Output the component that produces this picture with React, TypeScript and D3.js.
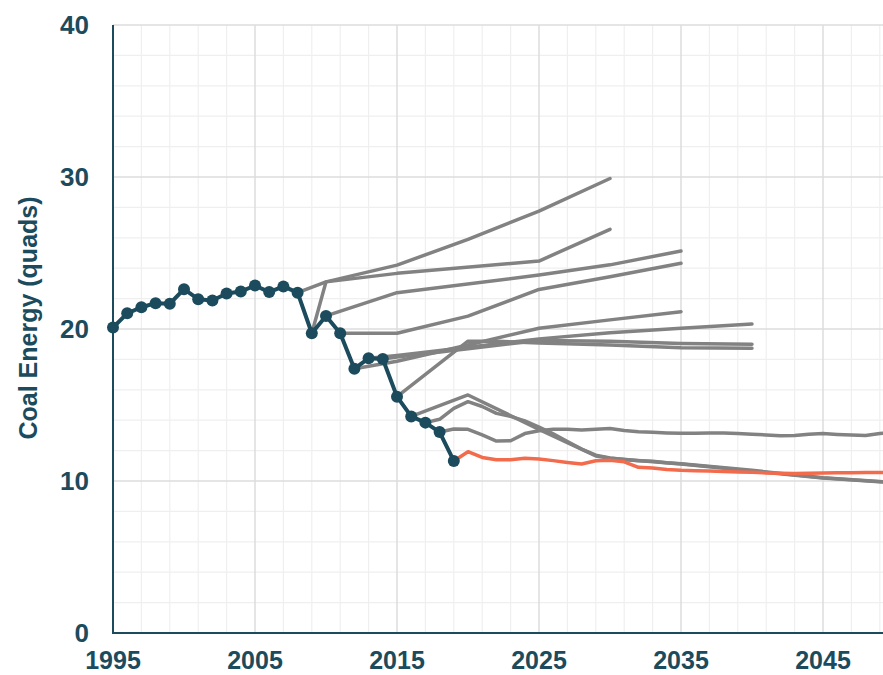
import React from 'react';
import * as d3 from 'd3';

// Historical coal consumption (quads)
const histYears = [1995, 1996, 1997, 1998, 1999, 2000, 2001, 2002, 2003, 2004, 2005, 2006, 2007, 2008, 2009, 2010, 2011, 2012, 2013, 2014, 2015, 2016, 2017, 2018, 2019];
const histValues = [20.1, 21.03, 21.43, 21.7, 21.66, 22.62, 21.96, 21.87, 22.34, 22.46, 22.86, 22.43, 22.8, 22.39, 19.72, 20.86, 19.72, 17.39, 18.07, 18.03, 15.55, 14.25, 13.84, 13.22, 11.32];

// Projection runs (year, quads)
const proj2008: [number, number][] = [[2008, 22.39], [2010, 23.1], [2015, 24.2], [2020, 25.9], [2025, 27.76], [2030, 29.9]];
const proj2009: [number, number][] = [[2009, 19.72], [2010, 23.1], [2015, 23.66], [2025, 24.47], [2030, 26.56]];
const proj2010: [number, number][] = [[2010, 20.86], [2015, 22.39], [2025, 23.55], [2030, 24.22], [2035, 25.13]];
const proj2011: [number, number][] = [[2011, 19.72], [2015, 19.72], [2020, 20.85], [2025, 22.6], [2030, 23.44], [2035, 24.32]];
const proj2012: [number, number][] = [[2012, 17.39], [2015, 17.88], [2020, 18.95], [2025, 20.05], [2030, 20.6], [2035, 21.14]];
const proj2013: [number, number][] = [[2013, 18.07], [2015, 18.25], [2020, 18.8], [2025, 19.35], [2030, 19.75], [2035, 20.05], [2040, 20.33]];
const proj2014: [number, number][] = [[2014, 18.03], [2015, 18.15], [2020, 18.7], [2025, 19.25], [2030, 19.2], [2035, 19.05], [2040, 18.99]];
const proj2015: [number, number][] = [[2015, 15.55], [2020, 19.2], [2022, 19.2], [2025, 19.08], [2030, 18.95], [2035, 18.76], [2040, 18.73]];
const proj2016: [number, number][] = [[2016, 14.25], [2020, 15.66], [2025, 13.4], [2029, 11.65], [2030, 11.5], [2035, 11.12], [2040, 10.66], [2045, 10.2], [2050, 9.88]];
const proj2017: [number, number][] = [
  [2017, 13.84], [2018, 14.06], [2019, 14.78], [2020, 15.22], [2021, 14.9], [2022, 14.45], [2023, 14.25],
  [2024, 13.95], [2025, 13.55], [2026, 13.1], [2027, 12.6], [2028, 12.1], [2029, 11.7], [2030, 11.52],
  [2031, 11.42], [2032, 11.34], [2033, 11.3], [2034, 11.2], [2035, 11.14], [2040, 10.7], [2045, 10.22], [2050, 9.9],
];
const proj2018: [number, number][] = [
  [2018, 13.22], [2019, 13.42], [2020, 13.4], [2021, 13.03], [2022, 12.63], [2023, 12.65], [2024, 13.12],
  [2025, 13.3], [2026, 13.4], [2027, 13.4], [2028, 13.36], [2029, 13.4], [2030, 13.45], [2031, 13.32],
  [2032, 13.24], [2033, 13.2], [2034, 13.16], [2035, 13.14], [2036, 13.14], [2037, 13.15], [2038, 13.15],
  [2039, 13.12], [2040, 13.08], [2041, 13.03], [2042, 12.98], [2043, 12.99], [2044, 13.08], [2045, 13.12],
  [2046, 13.06], [2047, 13.02], [2048, 12.99], [2049, 13.12], [2050, 13.2],
];
// Latest projection (highlighted)
const proj2019: [number, number][] = [
  [2019, 11.32], [2020, 11.93], [2021, 11.55], [2022, 11.4], [2023, 11.4], [2024, 11.5], [2025, 11.44],
  [2026, 11.34], [2027, 11.22], [2028, 11.12], [2029, 11.33], [2030, 11.36], [2031, 11.26], [2032, 10.9],
  [2033, 10.86], [2034, 10.76], [2035, 10.7], [2036, 10.68], [2037, 10.65], [2038, 10.62], [2039, 10.59],
  [2040, 10.57], [2041, 10.53], [2042, 10.51], [2043, 10.5], [2044, 10.51], [2045, 10.53], [2046, 10.54],
  [2047, 10.55], [2048, 10.56], [2049, 10.56], [2050, 10.57],
];

const grayProjections = [proj2008, proj2009, proj2010, proj2011, proj2012, proj2013, proj2014, proj2015, proj2016, proj2017, proj2018];

const xTicks = [1995, 2005, 2015, 2025, 2035, 2045];
const yTicks = [0, 10, 20, 30, 40];
const xMinor = [1997, 1999, 2001, 2003, 2007, 2009, 2011, 2013, 2017, 2019, 2021, 2023, 2027, 2029, 2031, 2033, 2037, 2039, 2041, 2043, 2047, 2049];
const yMinor = [2, 4, 6, 8, 12, 14, 16, 18, 22, 24, 26, 28, 32, 34, 36, 38];

const W = 883;
const H = 675;
const TEAL = '#1b4b5c';
const GRAY = '#828282';
const ORANGE = '#f26b4c';
const FONT = '"Liberation Sans", Arial, sans-serif';

export default function App() {
  const x = d3.scaleLinear().domain([1995, 2050]).range([113, 894]);
  const y = d3.scaleLinear().domain([0, 40]).range([633, 25]);
  const line = d3.line<[number, number]>().x((d) => x(d[0])).y((d) => y(d[1]));
  const hist: [number, number][] = histYears.map((yr, i) => [yr, histValues[i]]);

  return (
    <svg width={W} height={H} style={{ position: 'absolute', left: 0, top: 0, background: '#fff' }} fontFamily={FONT}>
      <defs>
        <clipPath id="plot">
          <rect x={113} y={0} width={W - 113} height={640} />
        </clipPath>
      </defs>
      {/* grid */}
      <g>
        {xMinor.map((t) => (
          <line key={'xm' + t} x1={x(t)} x2={x(t)} y1={y(40)} y2={y(0)} stroke="#efefef" strokeWidth={1.2} />
        ))}
        {yMinor.map((t) => (
          <line key={'ym' + t} x1={x(1995)} x2={W} y1={y(t)} y2={y(t)} stroke="#efefef" strokeWidth={1.2} />
        ))}
        {xTicks.map((t) => (
          <line key={'xM' + t} x1={x(t)} x2={x(t)} y1={y(40)} y2={y(0)} stroke="#dcdcdc" strokeWidth={1.5} />
        ))}
        {yTicks.map((t) => (
          <line key={'yM' + t} x1={x(1995)} x2={W} y1={y(t)} y2={y(t)} stroke="#dcdcdc" strokeWidth={1.5} />
        ))}
      </g>
      {/* axes */}
      <line x1={x(1995)} x2={x(1995)} y1={y(40)} y2={y(0) + 1} stroke={TEAL} strokeWidth={2} />
      <line x1={x(1995)} x2={W} y1={y(0)} y2={y(0)} stroke={TEAL} strokeWidth={2} />

      <g clipPath="url(#plot)">
        {grayProjections.map((p, i) => (
          <path key={i} d={line(p) || ''} fill="none" stroke={GRAY} strokeWidth={3.5} strokeLinejoin="round" strokeLinecap="round" />
        ))}
        <path d={line(proj2019) || ''} fill="none" stroke={ORANGE} strokeWidth={3.5} strokeLinejoin="round" />
        <path d={line(hist) || ''} fill="none" stroke={TEAL} strokeWidth={4} strokeLinejoin="round" />
      </g>
      {hist.map((d) => (
        <circle key={d[0]} cx={x(d[0])} cy={y(d[1])} r={6} fill={TEAL} />
      ))}

      {/* tick labels */}
      {yTicks.map((t) => (
        <text key={'yl' + t} x={89} y={y(t) + 8.5} textAnchor="end" fontSize={26} fontWeight="bold" fill={TEAL}>
          {t}
        </text>
      ))}
      {xTicks.map((t) => (
        <text key={'xl' + t} x={x(t)} y={669} textAnchor="middle" fontSize={25} fontWeight="bold" fill={TEAL}>
          {t}
        </text>
      ))}
      <text
        transform={`translate(37, ${318}) rotate(-90)`}
        textAnchor="middle"
        fontSize={25}
        fontWeight="bold"
        fill={TEAL}
      >
        Coal Energy (quads)
      </text>
    </svg>
  );
}
